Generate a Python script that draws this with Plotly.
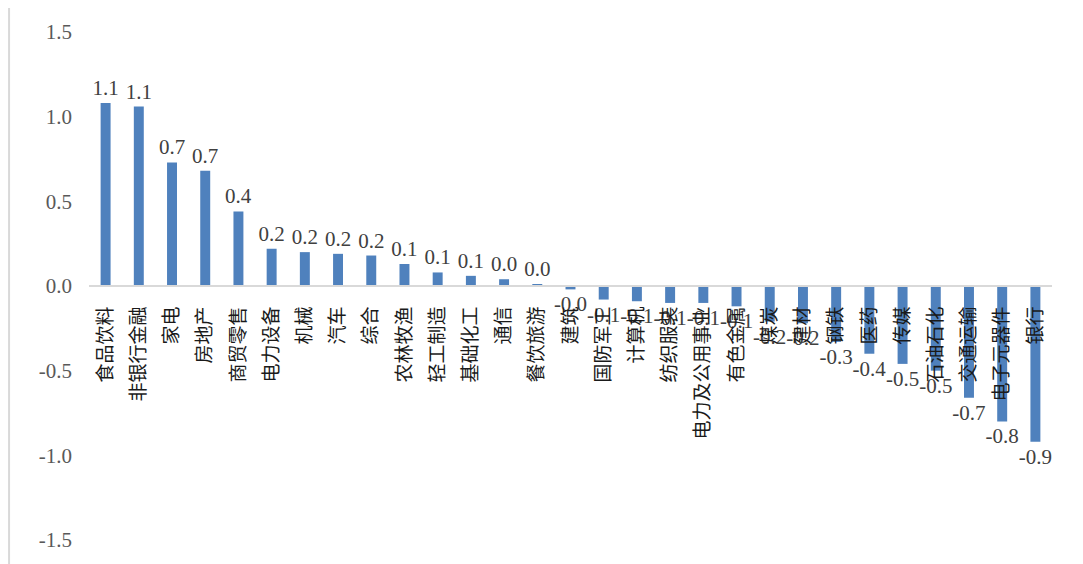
import plotly.graph_objects as go

# 行业 / 数值
industries = [
    "食品饮料", "非银行金融", "家电", "房地产", "商贸零售", "电力设备", "机械", "汽车",
    "综合", "农林牧渔", "轻工制造", "基础化工", "通信", "餐饮旅游", "建筑", "国防军工",
    "计算机", "纺织服装", "电力及公用事业", "有色金属", "煤炭", "建材", "钢铁", "医药",
    "传媒", "石油石化", "交通运输", "电子元器件", "银行",
]
values = [
    1.08, 1.06, 0.73, 0.68, 0.44, 0.22, 0.20, 0.19,
    0.18, 0.13, 0.08, 0.06, 0.04, 0.01, -0.02, -0.08,
    -0.09, -0.10, -0.10, -0.12, -0.21, -0.22, -0.33, -0.40,
    -0.46, -0.50, -0.66, -0.80, -0.92,
]
y_range = [-1.5, 1.5]
y_ticks = [-1.5, -1.0, -0.5, 0.0, 0.5, 1.0, 1.5]

BAR = "#4F81BD"
AXIS = "#D9D9D9"
NUM_FONT = "Liberation Serif, Times New Roman, serif"
CJK_FONT = "Noto Sans CJK SC, sans-serif"

fig = go.Figure(
    go.Bar(
        x=industries,
        y=values,
        marker=dict(color=BAR, line=dict(width=0)),
        text=[f"{v:.1f}" for v in values],
        textposition="outside",
        textangle=0,
        constraintext="none",
        cliponaxis=False,
        textfont=dict(family=NUM_FONT, size=21, color="#404040"),
        showlegend=False,
    )
)

zero_pos = (0 - y_range[0]) / (y_range[1] - y_range[0])

# page body adds an 8px margin, so the figure is sized to fit inside it
fig.update_layout(
    width=1075,
    height=556,
    margin=dict(l=81, r=31, t=16, b=21),
    paper_bgcolor="white",
    plot_bgcolor="white",
    bargap=0.7,
    xaxis=dict(
        type="category",
        anchor="free",
        position=zero_pos,
        showline=True,
        linecolor=AXIS,
        linewidth=2,
        showgrid=False,
        ticks="",
        tickangle=-90,
        ticklabelstandoff=12,
        tickfont=dict(family=CJK_FONT, size=19, color="#1a1a1a"),
    ),
    yaxis=dict(
        range=y_range,
        tickvals=y_ticks,
        ticktext=[f"{v:.1f}" for v in y_ticks],
        showgrid=False,
        zeroline=False,
        showline=False,
        ticks="",
        ticklabelstandoff=16,
        tickfont=dict(family=NUM_FONT, size=21, color="#595959"),
    ),
    shapes=[
        dict(
            type="line",
            xref="paper",
            yref="paper",
            x0=-0.083,
            x1=-0.083,
            y0=-0.05,
            y1=1.05,
            line=dict(color=AXIS, width=2),
        )
    ],
)

fig.write_html("out.html")
